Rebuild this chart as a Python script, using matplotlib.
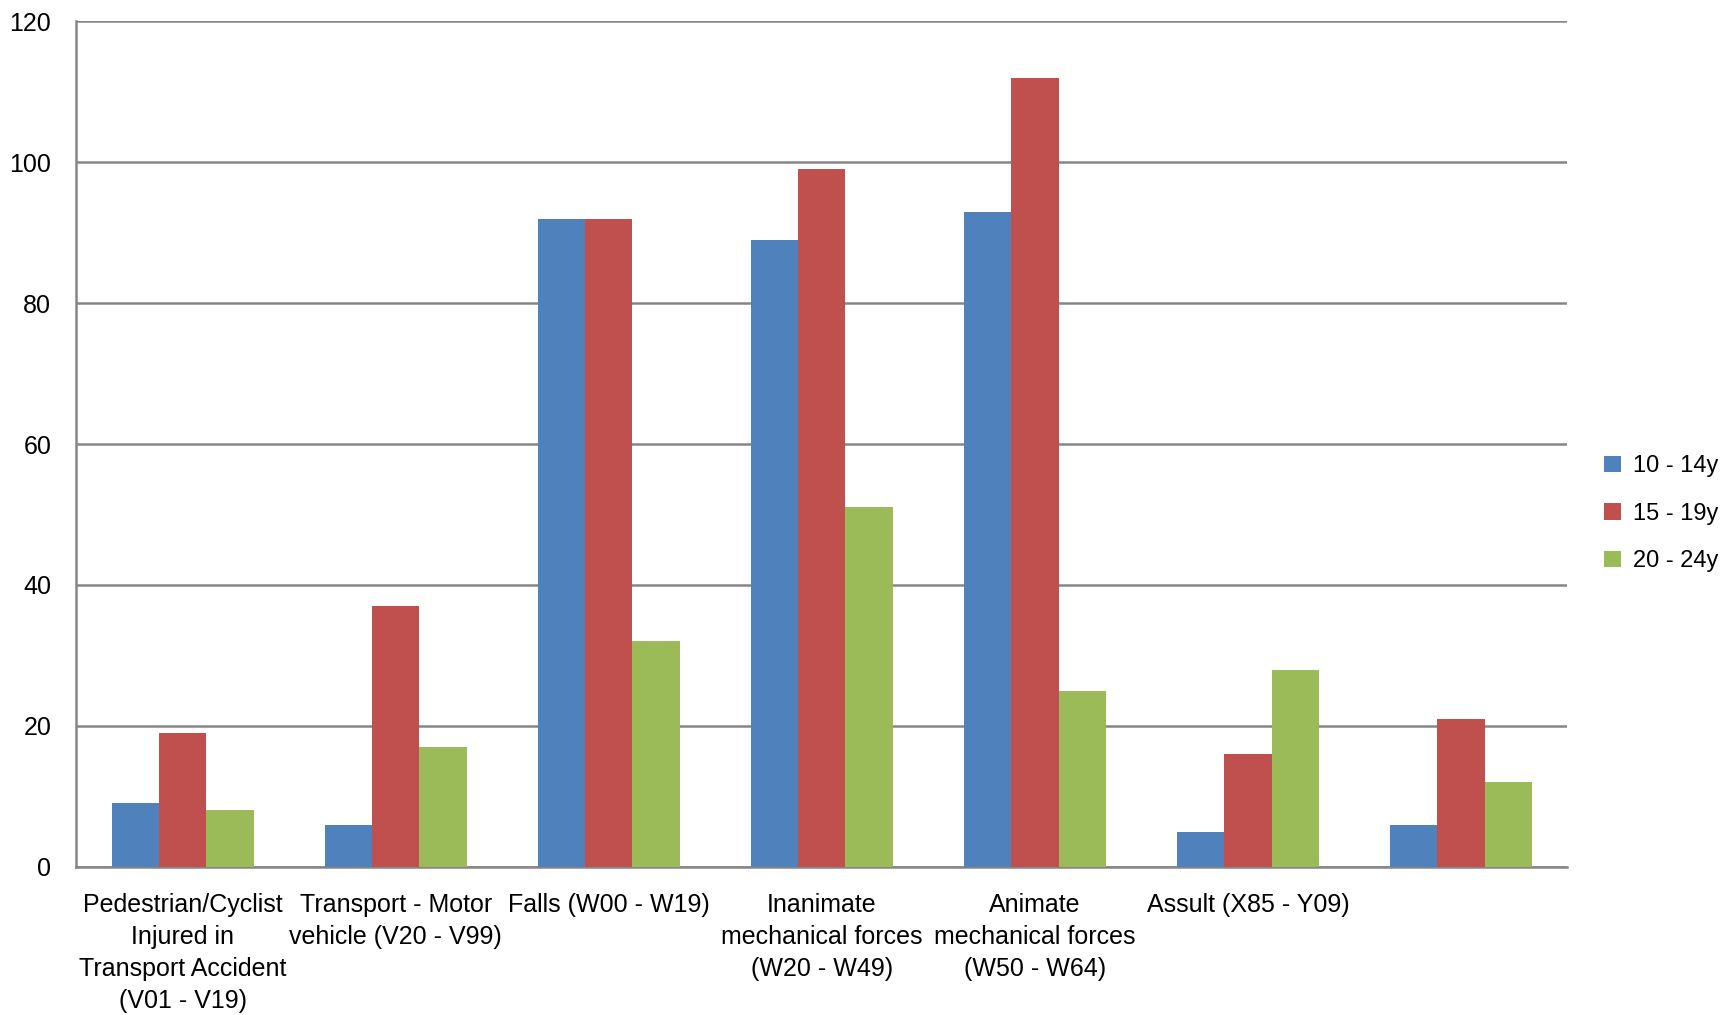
import numpy as np
import matplotlib.pyplot as plt

plt.rcParams['font.family'] = ['Liberation Sans', 'DejaVu Sans']

# Categories and values
categories = [
    "Pedestrian/Cyclist\nInjured in\nTransport Accident\n(V01 - V19)",
    "Transport - Motor\nvehicle (V20 - V99)",
    "Falls (W00 - W19)",
    "Inanimate\nmechanical forces\n(W20 - W49)",
    "Animate\nmechanical forces\n(W50 - W64)",
    "Assult (X85 - Y09)",
    "",
]
age_10_14 = [9, 6, 92, 89, 93, 5, 6]
age_15_19 = [19, 37, 92, 99, 112, 16, 21]
age_20_24 = [8, 17, 32, 51, 25, 28, 12]
series_names = ["10 - 14y", "15 - 19y", "20 - 24y"]
colors = ["#4f81bd", "#c0504d", "#9bbb59"]

fig = plt.figure(figsize=(17.32, 10.15), dpi=100)
ax = fig.add_axes([0.044, 0.146, 0.861, 0.833])

x = np.arange(len(categories))
w = 0.222
for i, (vals, name, c) in enumerate(zip([age_10_14, age_15_19, age_20_24], series_names, colors)):
    ax.bar(x + (i - 1) * w, vals, width=w, color=c, label=name, zorder=3)

ax.set_xlim(-0.5, len(categories) - 0.5)
ax.set_ylim(0, 120)
ax.set_yticks(np.arange(0, 121, 20))
ax.set_xticks(x)
ax.set_xticklabels(categories, fontsize=18, linespacing=1.42)
ax.tick_params(axis='y', labelsize=18, length=0, pad=18)
ax.tick_params(axis='x', length=0, pad=19)

ax.yaxis.grid(True, color='#868686', linewidth=1.8, zorder=0)
for s in ['top', 'right']:
    ax.spines[s].set_visible(False)
ax.spines['left'].set_color('#868686')
ax.spines['bottom'].set_color('#868686')
ax.spines['left'].set_linewidth(1.8)
ax.spines['bottom'].set_linewidth(1.8)

fig.legend(loc='center left', bbox_to_anchor=(0.914, 0.494), frameon=False,
           fontsize=17, handlelength=0.7, handleheight=0.7, handletextpad=0.5,
           labelspacing=1.08)

plt.savefig('out.png', dpi=100)
